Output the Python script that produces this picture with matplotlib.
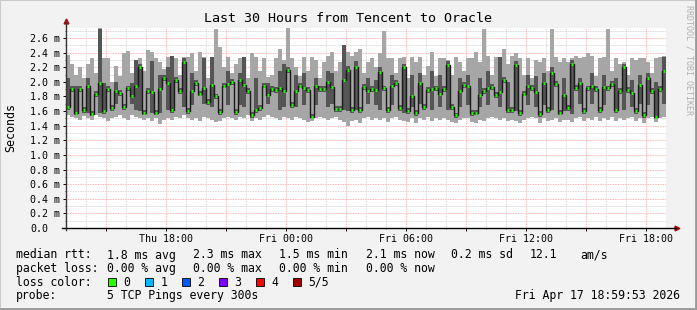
import numpy as np
import matplotlib
matplotlib.use("Agg")
import matplotlib.pyplot as plt
from matplotlib.patches import Rectangle

# RTT samples (ms), one every 12 minutes over 30 hours
rtt_min = [
    1.55, 1.52, 1.50, 1.48, 1.53, 1.50, 1.48, 1.55, 1.52, 1.50, 1.46, 1.50, 1.52, 1.55, 1.50, 1.48, 1.55, 1.52, 1.50, 1.48, 1.50, 1.46, 1.50, 1.42, 1.48,
    1.50, 1.48, 1.52, 1.50, 1.55, 1.50, 1.48, 1.50, 1.46, 1.52, 1.50, 1.48, 1.45, 1.47, 1.50, 1.52, 1.50, 1.48, 1.52, 1.50, 1.55, 1.46, 1.50, 1.48, 1.52,
    1.55, 1.52, 1.50, 1.48, 1.52, 1.50, 1.48, 1.52, 1.50, 1.48, 1.45, 1.47, 1.50, 1.52, 1.50, 1.48, 1.50, 1.52, 1.48, 1.45, 1.39, 1.46, 1.48, 1.44, 1.50,
    1.52, 1.48, 1.50, 1.48, 1.50, 1.45, 1.50, 1.52, 1.48, 1.46, 1.45, 1.50, 1.44, 1.50, 1.48, 1.52, 1.46, 1.50, 1.48, 1.50, 1.48, 1.45, 1.44, 1.48, 1.50,
    1.50, 1.45, 1.44, 1.48, 1.46, 1.50, 1.52, 1.50, 1.48, 1.50, 1.46, 1.48, 1.46, 1.44, 1.48, 1.50, 1.52, 1.50, 1.44, 1.50, 1.46, 1.48, 1.50, 1.45, 1.48,
    1.48, 1.45, 1.50, 1.52, 1.46, 1.50, 1.48, 1.52, 1.46, 1.50, 1.48, 1.52, 1.46, 1.50, 1.48, 1.50, 1.52, 1.46, 1.50, 1.44, 1.50, 1.52, 1.45, 1.50, 1.52,
]
rtt_p2 = [
    1.62, 1.86, 1.55, 1.86, 1.58, 1.58, 1.53, 1.79, 1.58, 1.56, 1.86, 1.60, 1.70, 1.81, 1.62, 1.87, 1.70, 1.62, 1.60, 1.54, 1.84, 1.58, 1.54, 1.58, 2.01,
    1.62, 1.58, 1.98, 1.83, 1.65, 1.56, 1.68, 1.94, 1.80, 1.70, 1.69, 1.66, 1.76, 1.55, 1.91, 1.68, 1.96, 1.55, 1.68, 1.65, 1.84, 1.51, 1.58, 1.60, 1.91,
    1.70, 1.86, 1.85, 1.62, 1.66, 2.12, 1.64, 1.66, 1.91, 1.68, 1.85, 1.50, 1.68, 1.86, 1.86, 1.66, 1.70, 1.59, 1.59, 1.62, 1.60, 1.57, 1.62, 1.58, 1.89,
    1.70, 1.86, 1.68, 1.62, 1.87, 1.58, 1.68, 1.94, 1.60, 1.58, 1.56, 1.65, 1.53, 1.70, 1.62, 1.85, 1.62, 1.87, 1.66, 1.86, 1.62, 1.62, 1.50, 1.66, 1.92,
    1.68, 1.53, 1.54, 1.66, 1.84, 1.68, 1.89, 1.78, 1.66, 1.98, 1.58, 1.58, 1.60, 1.53, 1.80, 1.68, 1.88, 1.66, 1.52, 1.68, 1.58, 1.62, 1.93, 1.54, 1.60,
    1.60, 1.56, 1.88, 1.70, 1.56, 1.87, 1.70, 1.86, 1.57, 1.68, 1.87, 1.93, 1.58, 1.84, 1.62, 1.85, 1.66, 1.56, 1.70, 1.51, 1.68, 1.84, 1.50, 1.86, 1.70,
]
rtt_median = [
    1.66, 1.90, 1.57, 1.90, 1.62, 1.94, 1.56, 1.83, 1.98, 1.60, 1.90, 1.64, 1.88, 1.85, 1.66, 1.91, 1.80, 1.94, 2.20, 1.58, 1.88, 1.86, 1.58, 1.90, 2.05,
    1.98, 1.61, 2.02, 1.87, 2.27, 1.60, 1.88, 1.98, 1.84, 1.92, 1.73, 1.96, 1.80, 1.59, 1.95, 1.97, 2.00, 1.59, 2.03, 1.96, 1.88, 1.55, 1.62, 1.64, 1.95,
    1.82, 1.90, 1.89, 1.91, 1.88, 2.16, 1.68, 1.88, 1.95, 1.92, 1.89, 1.52, 1.95, 1.90, 1.90, 2.00, 1.93, 1.63, 1.63, 2.02, 2.16, 1.61, 2.20, 1.62, 1.93,
    1.88, 1.90, 1.89, 2.14, 1.91, 1.62, 1.95, 1.98, 1.64, 2.20, 1.60, 1.80, 1.57, 1.98, 1.66, 1.89, 1.90, 1.91, 1.84, 1.90, 2.23, 1.66, 1.54, 1.88, 1.96,
    1.95, 1.57, 1.58, 1.82, 1.88, 1.92, 1.93, 1.82, 1.86, 2.02, 1.62, 1.62, 2.23, 1.57, 1.84, 1.94, 1.92, 1.86, 1.56, 1.98, 1.62, 2.12, 1.97, 1.58, 1.82,
    1.64, 2.25, 1.92, 1.98, 1.60, 1.91, 1.94, 1.90, 1.61, 1.93, 1.91, 1.97, 1.62, 1.88, 2.20, 1.89, 1.85, 1.60, 1.96, 1.55, 2.05, 1.88, 1.52, 1.90, 2.15,
]
rtt_p4 = [
    2.05, 1.94, 1.95, 1.94, 1.66, 2.05, 1.60, 1.87, 2.73, 1.98, 1.94, 1.68, 2.00, 1.89, 1.70, 1.95, 1.98, 2.30, 2.25, 1.62, 1.92, 2.28, 1.62, 2.10, 2.09,
    2.20, 2.35, 2.06, 1.91, 2.32, 1.64, 2.12, 2.02, 1.88, 2.32, 1.77, 2.34, 1.84, 1.63, 1.99, 2.15, 2.04, 1.63, 2.12, 2.34, 1.92, 1.59, 2.05, 1.68, 1.99,
    1.98, 1.94, 1.93, 2.15, 2.25, 2.20, 1.72, 2.10, 1.99, 2.12, 1.93, 1.56, 2.05, 1.94, 1.94, 2.15, 2.12, 1.67, 1.67, 2.50, 2.22, 1.65, 2.28, 1.66, 1.97,
    2.05, 1.94, 2.02, 2.20, 1.95, 1.66, 2.10, 2.02, 1.68, 2.25, 1.64, 2.10, 1.61, 2.12, 1.70, 1.93, 2.15, 1.95, 2.10, 1.94, 2.28, 1.70, 1.58, 2.05, 2.00,
    2.10, 1.61, 1.62, 2.05, 1.92, 2.15, 1.97, 1.86, 2.34, 2.06, 2.00, 1.66, 2.28, 1.61, 1.88, 2.10, 1.96, 2.08, 1.60, 2.12, 1.66, 2.20, 2.01, 1.62, 2.05,
    1.68, 2.30, 1.96, 2.05, 1.64, 1.95, 2.12, 1.94, 1.65, 2.10, 1.95, 2.01, 2.05, 1.92, 2.25, 1.93, 2.02, 1.64, 2.10, 1.59, 2.12, 1.92, 2.00, 1.94, 2.34,
]
rtt_max = [
    2.37, 2.25, 2.10, 2.20, 2.05, 2.25, 2.32, 2.12, 2.74, 2.33, 2.33, 2.00, 2.22, 2.08, 2.40, 2.42, 2.12, 2.30, 2.33, 2.15, 2.43, 2.41, 2.32, 2.27, 2.18,
    2.34, 2.35, 2.32, 2.10, 2.34, 2.34, 2.39, 2.15, 2.41, 2.34, 2.05, 2.34, 2.72, 2.48, 2.20, 2.34, 2.12, 2.25, 2.32, 2.34, 2.05, 2.39, 2.34, 2.15, 2.32,
    2.06, 2.10, 2.32, 2.45, 2.30, 2.74, 2.32, 2.20, 2.08, 2.34, 2.15, 2.34, 2.30, 2.05, 2.27, 2.36, 2.41, 2.15, 2.27, 2.50, 2.41, 2.36, 2.41, 2.45, 2.12,
    2.27, 2.32, 2.20, 2.39, 2.70, 2.32, 2.32, 2.12, 2.32, 2.34, 2.05, 2.34, 2.27, 2.34, 2.10, 2.22, 2.41, 2.08, 2.32, 2.32, 2.30, 2.10, 2.34, 2.27, 2.15,
    2.32, 2.32, 2.41, 2.27, 2.73, 2.36, 2.10, 2.34, 2.34, 2.45, 2.25, 2.36, 2.39, 2.32, 2.10, 2.32, 2.05, 2.30, 2.27, 2.32, 2.15, 2.73, 2.34, 2.27, 2.32,
    2.27, 2.32, 2.36, 2.32, 2.34, 2.39, 2.36, 2.08, 2.32, 2.34, 2.73, 2.15, 2.32, 2.25, 2.27, 2.10, 2.32, 2.30, 2.32, 2.32, 2.27, 2.12, 2.32, 2.34, 2.36,
]

step_h = 0.2  # hours per sample
hour_ticks = [2, 5, 8, 11, 14, 17, 20, 23, 26, 29]  # hours after Thu 13:00
hour_labels = ["", "Thu 18:00", "", "Fri 00:00", "", "Fri 06:00", "", "Fri 12:00", "", "Fri 18:00"]
y_ticks = [0.0, 0.2, 0.4, 0.6, 0.8, 1.0, 1.2, 1.4, 1.6, 1.8, 2.0, 2.2, 2.4, 2.6]
y_labels = ["0.0", "0.2 m", "0.4 m", "0.6 m", "0.8 m", "1.0 m", "1.2 m", "1.4 m",
            "1.6 m", "1.8 m", "2.0 m", "2.2 m", "2.4 m", "2.6 m"]

stats_rtt = ["1.8 ms avg", "2.3 ms max", "1.5 ms min", "2.1 ms now", "0.2 ms sd", "12.1", "am/s"]
stats_loss = ["0.00 % avg", "0.00 % max", "0.00 % min", "0.00 % now"]
loss_labels = ["0", "1", "2", "3", "4", "5/5"]
loss_colors = ["#26ff00", "#00b8ff", "#0059ff", "#7e00ff", "#ff0000", "#a10000"]

W, H = 697, 310
plt.rcParams["font.family"] = "DejaVu Sans Mono"


def fx(px):
    return px / W


def fy(py):
    return 1 - py / H


fig = plt.figure(figsize=(W / 100, H / 100), dpi=100, facecolor="#f2f2f2")
ax = fig.add_axes([fx(66), fy(228), 600 / W, 200.5 / H])
ax.set_facecolor("white")

hours = np.arange(len(rtt_median)) * step_h
edges = np.append(hours, hours[-1] + step_h)


def ext(a):
    return np.append(a, a[-1])


# smoke: full spread light, inner pings dark, median line + loss coloured marks
ax.fill_between(edges, ext(rtt_min), ext(rtt_max), step="post", color="#a6a6a6", lw=0, zorder=2)
ax.fill_between(edges, ext(rtt_p2), ext(rtt_p4), step="post", color="#555555", lw=0, zorder=3)
ax.step(edges, ext(rtt_median), where="post", color="#1a1a1a", lw=1.0, zorder=4)
ax.hlines(rtt_median, hours + 0.03, hours + step_h - 0.03, color=loss_colors[0], lw=2.0, zorder=5)

ax.set_xlim(0, 30)
ax.set_ylim(0, 2.744)
ax.set_xticks(hour_ticks)
ax.set_xticklabels(hour_labels)
ax.set_xticks(np.arange(1, 30), minor=True)
ax.set_yticks(y_ticks)
ax.set_yticklabels(y_labels)
ax.set_yticks(np.arange(0.1, 2.75, 0.2), minor=True)
ax.set_axisbelow(True)
ax.grid(which="minor", color="#cccccc", ls=(0, (1, 1)), lw=0.6)
ax.grid(which="major", color="#ff9c9c", ls=(0, (1, 1)), lw=0.6)
ax.tick_params(which="major", length=2, width=0.7, direction="out", labelsize=7.2)
ax.tick_params(which="minor", length=1, width=0.5, direction="out")
ax.tick_params(axis="x", pad=2)
ax.tick_params(axis="y", pad=24)
for lab in ax.get_yticklabels():
    lab.set_horizontalalignment("left")
for s in ax.spines.values():
    s.set_visible(False)

# axes with arrows
ax.plot([-0.006, 1.016], [0, 0], color="black", lw=1, transform=ax.transAxes, clip_on=False, zorder=6)
ax.plot([0, 0], [-0.01, 1.02], color="#333333", lw=1, transform=ax.transAxes, clip_on=False, zorder=6)
ax.plot([1.018], [0], marker=">", ms=3.5, color="#a01010", transform=ax.transAxes, clip_on=False)
ax.plot([0], [1.03], marker="^", ms=3.5, color="#a01010", transform=ax.transAxes, clip_on=False)

fig.text(fx(348), fy(19), "Last 30 Hours from Tencent to Oracle", ha="center", va="center", fontsize=9.6)
fig.text(fx(11), fy(128), "Seconds", rotation=90, ha="center", va="center", fontsize=8.4)
fig.text(fx(689), fy(5), "RRDTOOL / TOBI OETIKER", rotation=-90, ha="center", va="top",
         fontsize=6, color="#b0b0b0")

# legend
fs = 8.3
x_cols = [107, 193, 279, 366, 451, 530, 580]
fig.text(fx(16), fy(255), "median rtt:", fontsize=fs, va="center")
for x, s in zip(x_cols, stats_rtt):
    fig.text(fx(x), fy(255), s, fontsize=fs, va="center")
fig.text(fx(16), fy(268.5), "packet loss:", fontsize=fs, va="center")
for x, s in zip(x_cols, stats_loss):
    fig.text(fx(x), fy(268.5), s, fontsize=fs, va="center")
fig.text(fx(16), fy(282), "loss color:", fontsize=fs, va="center")
for i, (lab, col) in enumerate(zip(loss_labels, loss_colors)):
    bx = 108.3 + i * 37
    fig.add_artist(Rectangle((fx(bx), fy(285.7)), 7.4 / W, 7.4 / H, transform=fig.transFigure,
                             facecolor=col, edgecolor="black", lw=0.6))
    fig.text(fx(bx + 15), fy(282), lab, fontsize=fs, va="center")
fig.text(fx(16), fy(295.7), "probe:", fontsize=fs, va="center")
fig.text(fx(107), fy(295.7), "5 TCP Pings every 300s", fontsize=fs, va="center")
fig.text(fx(680), fy(295.7), "Fri Apr 17 18:59:53 2026", fontsize=fs, va="center", ha="right")

# 3d border
fig.add_artist(Rectangle((0, 0), 1, 1, transform=fig.transFigure, fill=False, edgecolor="#cbcbcb", lw=1.5))
fig.add_artist(plt.Line2D([fx(1), 1], [fy(309), fy(309)], transform=fig.transFigure, color="#999999", lw=2))
fig.add_artist(plt.Line2D([fx(696), fx(696)], [fy(309), 1], transform=fig.transFigure, color="#999999", lw=2))

fig.savefig("out.png", dpi=100, facecolor=fig.get_facecolor())
